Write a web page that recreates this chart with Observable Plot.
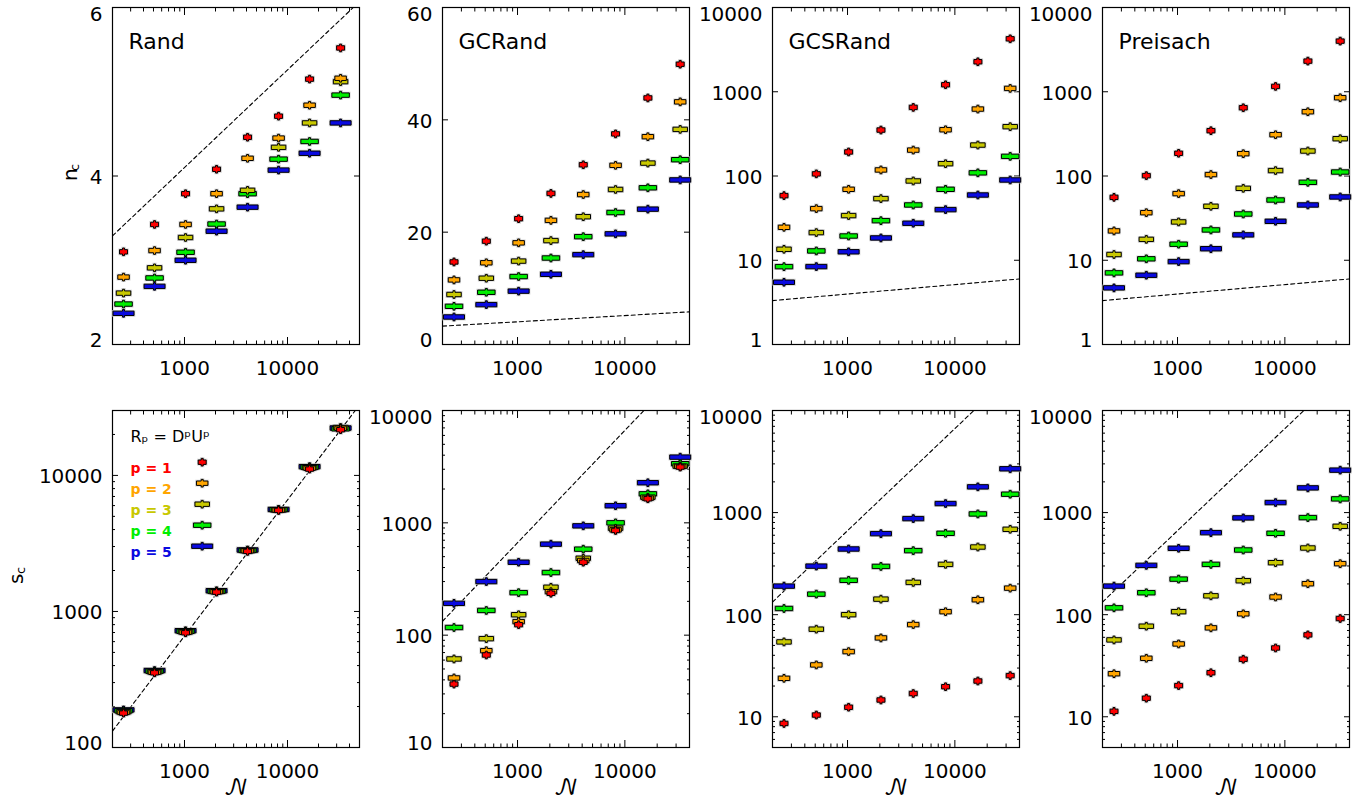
<!DOCTYPE html>
<html><head><meta charset="utf-8">
<script src="https://cdn.jsdelivr.net/npm/d3@7"></script>
<script src="https://cdn.jsdelivr.net/npm/@observablehq/plot@0.6"></script>
<style>
body{margin:0;background:#fff;}
#wrap{position:relative;width:1360px;height:808px;overflow:hidden;background:#fff;}
.panel{position:absolute;}
.panel svg{overflow:visible;}
</style></head><body><div id="wrap"></div>
<script>
// ---------------- data ----------------
const Ns = [256, 512, 1024, 2048, 4096, 8192, 16384, 32768];
const ps = [1, 2, 3, 4, 5];
const titles = ["Rand", "GCRand", "GCSRand", "Preisach"];

// n_c (top row), rows = p1..p5
const randNc = [
  [3.10, 3.425, 3.79, 4.08, 4.46, 4.71, 5.15, 5.52],
  [2.80, 3.115, 3.425, 3.79, 4.21, 4.45, 4.84, 5.16],
  [2.61, 2.91, 3.27, 3.61, 3.83, 4.34, 4.63, 5.12],
  [2.48, 2.79, 3.095, 3.43, 3.79, 4.20, 4.41, 4.96],
  [2.37, 2.69, 3.00, 3.345, 3.63, 4.07, 4.27, 4.63]
];
const gcrandNc = [
  [14.7, 18.4, 22.4, 26.9, 32.0, 37.5, 43.9, 49.9],
  [11.5, 14.55, 18.1, 22.1, 26.7, 31.9, 37.0, 43.2],
  [8.9, 11.8, 14.85, 18.5, 22.75, 27.6, 32.3, 38.3],
  [6.8, 9.3, 12.1, 15.4, 19.2, 23.5, 27.9, 32.9],
  [4.9, 7.1, 9.5, 12.5, 16.0, 19.7, 24.1, 29.3]
];
const gcsrandNc = [
  [58.5, 106, 193, 351, 652, 1211, 2270, 4250],
  [24.6, 41.0, 69.5, 118, 203, 354, 623, 1096],
  [13.5, 21.3, 33.9, 53.9, 87.3, 140, 233, 385],
  [8.4, 12.9, 19.4, 29.5, 45.3, 69.5, 109, 171],
  [5.48, 8.41, 12.6, 18.4, 27.5, 39.9, 59.5, 89.7]
];
const preisachNc = [
  [55.8, 101, 186, 345, 646, 1157, 2310, 3990],
  [22.3, 36.7, 61.8, 104, 184, 309, 579, 849],
  [11.7, 17.7, 28.5, 43.7, 71.4, 116, 198, 277],
  [7.08, 10.4, 15.5, 22.9, 35.4, 51.9, 84.1, 111.5],
  [4.70, 6.64, 9.64, 13.7, 20.0, 29.0, 45.3, 56.4]
];
// s_c (bottom row)
const randSc = [
  [179, 354, 697, 1387, 2763, 5530, 11130, 21670],
  [181, 357, 703, 1395, 2790, 5560, 11300, 22200],
  [183, 360, 708, 1402, 2800, 5580, 11400, 22500],
  [186, 364, 715, 1410, 2810, 5600, 11500, 22000],
  [189, 368, 722, 1420, 2830, 5620, 11600, 22300]
];
const gcrandSc = [
  [36.7, 66.6, 124, 236, 446, 855, 1637, 3135],
  [41.6, 72.8, 132, 244, 462, 866, 1660, 3178],
  [61.4, 93.1, 152, 267, 484, 896, 1693, 3200],
  [117, 166, 239, 361, 583, 1000, 1812, 3360],
  [192, 300, 446, 646, 940, 1419, 2275, 3845]
];
const gcsrandSc = [
  [8.60, 10.4, 12.4, 14.6, 16.9, 19.7, 22.4, 25.3],
  [23.8, 32.2, 43.5, 59.2, 80.0, 107, 140, 182],
  [54.1, 72.1, 100, 142, 207, 311, 460, 686],
  [115, 159, 217, 297, 424, 627, 970, 1514],
  [190.5, 299, 440, 622, 873, 1226, 1787, 2685]
];
const preisachSc = [
  [11.3, 15.2, 20.2, 27.0, 36.6, 47.2, 63.4, 91.7],
  [26.4, 37.4, 51.7, 74.3, 102, 149, 201, 316],
  [56.6, 77.1, 107, 153, 215, 323, 450, 734],
  [116.7, 164, 223, 311, 430, 627, 893, 1362],
  [190.5, 304, 447, 636, 887, 1254, 1746, 2605]
];
// dashed reference lines: values at the left / right ends of the x range
const refNWide = [200, 50000];
const refNNarrow = [200, 40000];
const randNcRef = [3.29, 6.07];
const gcrandNcRef = [3.27, 5.82];
const gcsrandNcRef = [3.32, 6.0];
const preisachNcRef = [3.32, 6.0];
const randScRef = [132, 33000];
const gcrandScRef = [133, 26600];
const gcsrandScRef = [133, 26600];
const preisachScRef = [133, 26600];

// tick labels
const xMajor = [1000, 10000];
const yTicksRand = [2, 4, 6];
const yTicksGCRand = [0, 20, 40, 60];
const yTicksLogTop = [1, 10, 100, 1000, 10000];
const yTicksRandSc = [100, 1000, 10000];
const yTicksLogBottom = [10, 100, 1000, 10000];

// ---------------- style ----------------
const pColors = ["#ff0000", "#ffa500", "#c8c800", "#00ee00", "#0a0ae0"];
const symWidths = [8, 11.5, 14.5, 17.5, 21];
function plusSymbol(w) {
  const hw = w / 2, hh = 2.2, vw = 1, vh = 3.8;
  return {
    draw(c) {
      c.moveTo(-hw, -hh); c.lineTo(-vw, -hh); c.lineTo(-vw, -vh); c.lineTo(vw, -vh);
      c.lineTo(vw, -hh); c.lineTo(hw, -hh); c.lineTo(hw, hh); c.lineTo(vw, hh);
      c.lineTo(vw, vh); c.lineTo(-vw, vh); c.lineTo(-vw, hh); c.lineTo(-hw, hh);
      c.closePath();
    }
  };
}
const symbols = symWidths.map(plusSymbol);

function decadeMinors(lo, hi) {
  const out = [];
  for (let e = -1; e < 6; e++) for (let m = 2; m <= 9; m++) {
    const v = m * Math.pow(10, e);
    if (v > lo * 1.0001 && v < hi * 0.9999) out.push(v);
  }
  return out;
}

const colLeft = [112, 442, 772, 1102];
const rowTop = [7, 410];
const frameW = 247, frameH = 337;
const ML = 110, MR = 3, MT = 10;
const fontFamily = "'DejaVu Sans', 'Noto Sans', sans-serif";

const panels = [
  {row: 0, col: 0, series: randNc, ref: randNcRef, refN: refNWide, xdom: [200, 50000], ytype: "linear", ydom: [2, 6], ymajor: yTicksRand, yminor: []},
  {row: 0, col: 1, series: gcrandNc, ref: gcrandNcRef, refN: refNNarrow, xdom: [200, 40000], ytype: "linear", ydom: [0, 60], ymajor: yTicksGCRand, yminor: []},
  {row: 0, col: 2, series: gcsrandNc, ref: gcsrandNcRef, refN: refNNarrow, xdom: [200, 40000], ytype: "log", ydom: [1, 10000], ymajor: yTicksLogTop, yminor: []},
  {row: 0, col: 3, series: preisachNc, ref: preisachNcRef, refN: refNNarrow, xdom: [200, 40000], ytype: "log", ydom: [1, 10000], ymajor: yTicksLogTop, yminor: []},
  {row: 1, col: 0, series: randSc, ref: randScRef, refN: refNWide, xdom: [200, 50000], ytype: "log", ydom: [100, 30000], ymajor: yTicksRandSc, yminor: decadeMinors(100, 30000)},
  {row: 1, col: 1, series: gcrandSc, ref: gcrandScRef, refN: refNNarrow, xdom: [200, 40000], ytype: "log", ydom: [10, 10000], ymajor: yTicksLogBottom, yminor: decadeMinors(10, 10000)},
  {row: 1, col: 2, series: gcsrandSc, ref: gcsrandScRef, refN: refNNarrow, xdom: [200, 40000], ytype: "log", ydom: [5, 10000], ymajor: yTicksLogBottom, yminor: decadeMinors(5, 10000)},
  {row: 1, col: 3, series: preisachSc, ref: preisachScRef, refN: refNNarrow, xdom: [200, 40000], ytype: "log", ydom: [5, 10000], ymajor: yTicksLogBottom, yminor: decadeMinors(5, 10000)}
];

function haloMark(rows, i, extra = {}) {
  return Plot.dot(rows, {...extra, symbol: symbols[i], r: 5, fill: "none", stroke: "#c4c4c4", strokeWidth: 2.4, strokeOpacity: 0.75});
}
function fillMark(rows, i, extra = {}) {
  return Plot.dot(rows, {...extra, symbol: symbols[i], r: 5, fill: pColors[i], stroke: "#000", strokeWidth: 1});
}

function axisMarks(cfg) {
  const fmt = d => String(d);
  const [y0, y1] = cfg.ydom;
  const xMinor = decadeMinors(cfg.xdom[0], cfg.xdom[1]).filter(v => !xMajor.includes(v));
  const yInner = cfg.ymajor.filter(v => v > y0 && v < y1);
  const out = [
    Plot.axisX({ticks: xMajor, anchor: "bottom", tickSize: 7, dy: -7, fill: "none", stroke: "#000", label: null}),
    Plot.axisX({ticks: xMajor, anchor: "top", tickSize: 7, dy: 7, fill: "none", stroke: "#000", label: null}),
    Plot.axisX({ticks: xMinor, anchor: "bottom", tickSize: 3.5, dy: -3.5, fill: "none", stroke: "#000", label: null}),
    Plot.axisX({ticks: xMinor, anchor: "top", tickSize: 3.5, dy: 3.5, fill: "none", stroke: "#000", label: null}),
    Plot.axisX({ticks: xMajor, anchor: "bottom", tickSize: 0, tickPadding: 16, tickFormat: fmt, fontSize: 20, fill: "#000", label: null})
  ];
  if (yInner.length) {
    out.push(Plot.axisY({ticks: yInner, anchor: "left", tickSize: 6, dx: 6, fill: "none", stroke: "#000", label: null}));
    out.push(Plot.axisY({ticks: yInner, anchor: "right", tickSize: 6, dx: -6, fill: "none", stroke: "#000", label: null}));
  }
  if (cfg.yminor.length) {
    out.push(Plot.axisY({ticks: cfg.yminor, anchor: "left", tickSize: 3, dx: 3, fill: "none", stroke: "#000", label: null}));
    out.push(Plot.axisY({ticks: cfg.yminor, anchor: "right", tickSize: 3, dx: -3, fill: "none", stroke: "#000", label: null}));
  }
  const mid = cfg.ymajor.filter(v => v > y0 && v < y1);
  const top = cfg.ymajor.filter(v => v === y1);
  const bot = cfg.ymajor.filter(v => v === y0);
  const lab = {anchor: "left", tickSize: 0, tickPadding: 10, tickFormat: fmt, fontSize: 20, fill: "#000", label: null};
  if (mid.length) out.push(Plot.axisY({...lab, ticks: mid, dy: 1.5}));
  if (top.length) out.push(Plot.axisY({...lab, ticks: top, dy: 7}));
  if (bot.length) out.push(Plot.axisY({...lab, ticks: bot, dy: -4}));
  return out;
}

const wrap = document.getElementById("wrap");
panels.forEach(cfg => {
  const MB = cfg.row === 0 ? 45 : 60;
  const marks = [];
  marks.push(...axisMarks(cfg));
  marks.push(Plot.frame({stroke: "#000", strokeWidth: 1.2}));
  const refRows = cfg.refN.map((N, j) => ({N, v: cfg.ref[j]}));
  marks.push(Plot.line(refRows, {x: "N", y: "v", stroke: "#000", strokeWidth: 1.1, strokeDasharray: "4,3", clip: true}));
  const seriesRows = ps.map((p, i) => Ns.map((N, j) => ({N, v: cfg.series[i][j]})));
  for (let i = ps.length - 1; i >= 0; i--) marks.push(haloMark(seriesRows[i], i, {x: "N", y: "v"}));
  for (let i = ps.length - 1; i >= 0; i--) marks.push(fillMark(seriesRows[i], i, {x: "N", y: "v"}));
  if (cfg.row === 0) {
    marks.push(Plot.text([titles[cfg.col]], {text: d => d, frameAnchor: "top-left", dx: 16, dy: 26, lineAnchor: "top", textAnchor: "start", fontSize: 22, fill: "#000"}));
  } else {
    marks.push(Plot.text(["𝒩"], {text: d => d, frameAnchor: "bottom", dy: 47, fontSize: 22, fill: "#000", fontFamily: "'DejaVu Math TeX Gyre', 'DejaVu Serif', 'DejaVu Sans', serif"}));
  }
  if (cfg.col === 0) {
    const dxl = cfg.row === 0 ? -42 : -96;
    const main = cfg.row === 0 ? "n" : "s";
    marks.push(Plot.text([main], {text: d => d, frameAnchor: "left", dx: dxl, dy: 5, rotate: -90, fontSize: 20, fill: "#000"}));
    marks.push(Plot.text(["c"], {text: d => d, frameAnchor: "left", dx: dxl + 4, dy: -5, rotate: -90, fontSize: 13, fill: "#000"}));
  }
  if (cfg.row === 1 && cfg.col === 0) {
    marks.push(Plot.text(["Rₚ = DᵖUᵖ"], {text: d => d, frameAnchor: "top-left", dx: 18, dy: 20, lineAnchor: "top", textAnchor: "start", fontSize: 16, fill: "#000"}));
    ps.forEach((p, i) => {
      const pos = {frameAnchor: "top-left", dx: 89.7, dy: 51.7 + 21 * i};
      marks.push(Plot.text([`p = ${p}`], {text: d => d, frameAnchor: "top-left", dx: 18, dy: 52.8 + 21 * i, textAnchor: "start", fontSize: 14, fontWeight: "bold", fill: pColors[i]}));
      marks.push(haloMark([p], i, pos), fillMark([p], i, pos));
    });
  }
  const svg = Plot.plot({
    width: ML + frameW + MR,
    height: MT + frameH + MB,
    marginLeft: ML, marginRight: MR, marginTop: MT, marginBottom: MB,
    x: {type: "log", domain: cfg.xdom},
    y: {type: cfg.ytype, domain: cfg.ydom},
    style: {fontFamily, background: "transparent", overflow: "visible"},
    marks
  });
  const div = document.createElement("div");
  div.className = "panel";
  div.style.left = (colLeft[cfg.col] - ML) + "px";
  div.style.top = (rowTop[cfg.row] - MT) + "px";
  div.appendChild(svg);
  wrap.appendChild(div);
});
</script>
</body></html>
